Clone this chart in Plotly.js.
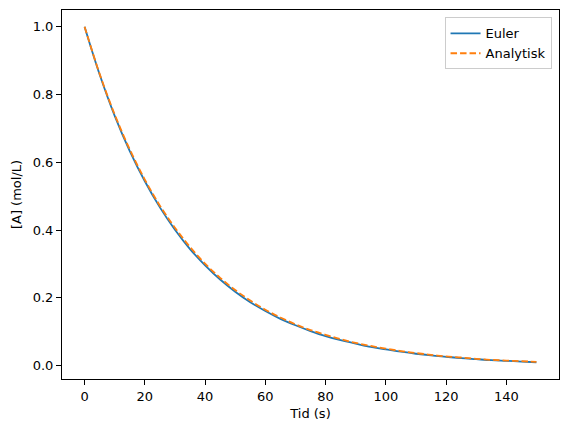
<!DOCTYPE html>
<html>
<head>
<meta charset="utf-8">
<script src="https://cdn.plot.ly/plotly-3.0.1.min.js"></script>
<style>
  body { margin: 0; background: white; }
  #graph { width: 567px; height: 433px; }
</style>
</head>
<body>
<div id="graph"></div>
<script>
// time points (s), every 5 s
const tid = [0, 5, 10, 15, 20, 25, 30, 35, 40, 45, 50, 55, 60, 65, 70, 75,
             80, 85, 90, 95, 100, 105, 110, 115, 120, 125, 130, 135, 140, 145, 150];

// [A] from the Euler steps (blue, solid)
const euler = [1.000, 0.859, 0.737, 0.633, 0.544, 0.467, 0.401, 0.344, 0.296, 0.254,
               0.218, 0.187, 0.161, 0.138, 0.119, 0.102, 0.087, 0.075, 0.065, 0.055,
               0.048, 0.041, 0.035, 0.030, 0.026, 0.022, 0.019, 0.016, 0.014, 0.012, 0.010];

// [A] analytic solution (orange, dashed)
const analytisk = [1.000, 0.861, 0.741, 0.638, 0.549, 0.472, 0.407, 0.350, 0.301, 0.259,
                   0.223, 0.192, 0.165, 0.142, 0.122, 0.105, 0.091, 0.078, 0.067, 0.058,
                   0.050, 0.043, 0.037, 0.032, 0.027, 0.024, 0.020, 0.017, 0.015, 0.013, 0.011];

const xTicks = [0, 20, 40, 60, 80, 100, 120, 140];
const yTicks = [0.0, 0.2, 0.4, 0.6, 0.8, 1.0];

const traces = [
    {
        x: tid, y: euler, name: 'Euler',
        type: 'scatter', mode: 'lines',
        line: { color: '#1f77b4', width: 1.8, shape: 'spline' }
    },
    {
        x: tid, y: analytisk, name: 'Analytisk',
        type: 'scatter', mode: 'lines',
        line: { color: '#ff7f0e', width: 1.8, dash: '6.5px,3px', shape: 'spline' }
    }
];

const axisStyle = {
    showgrid: false,
    zeroline: false,
    showline: true,
    mirror: true,
    linecolor: 'black',
    linewidth: 1,
    ticks: 'outside',
    ticklen: 5,
    tickwidth: 1,
    tickcolor: 'black',
    tickfont: { size: 13, color: 'black' }
};

const layout = {
    width: 567,
    height: 433,
    margin: { l: 62, r: 8, t: 10, b: 54 },
    paper_bgcolor: 'white',
    plot_bgcolor: 'white',
    font: { family: 'DejaVu Sans, sans-serif', size: 13, color: 'black' },
    xaxis: Object.assign({}, axisStyle, {
        range: [-7.5, 157.5],
        tickvals: xTicks,
        ticktext: xTicks.map(String),
        title: { text: 'Tid (s)', font: { size: 13 }, standoff: 6 }
    }),
    yaxis: Object.assign({}, axisStyle, {
        range: [-0.0395, 1.0495],
        tickvals: yTicks,
        ticktext: yTicks.map((v) => v.toFixed(1)),
        title: { text: '[A] (mol/L)', font: { size: 13 }, standoff: 8 }
    }),
    showlegend: true,
    legend: {
        x: 0.985, y: 0.98,
        xanchor: 'right', yanchor: 'top',
        bgcolor: 'rgba(255,255,255,0.8)',
        bordercolor: '#cccccc',
        borderwidth: 1,
        font: { size: 13 },
        tracegroupgap: 0
    }
};

Plotly.newPlot('graph', traces, layout, { displayModeBar: false, staticPlot: true });
</script>
</body>
</html>
